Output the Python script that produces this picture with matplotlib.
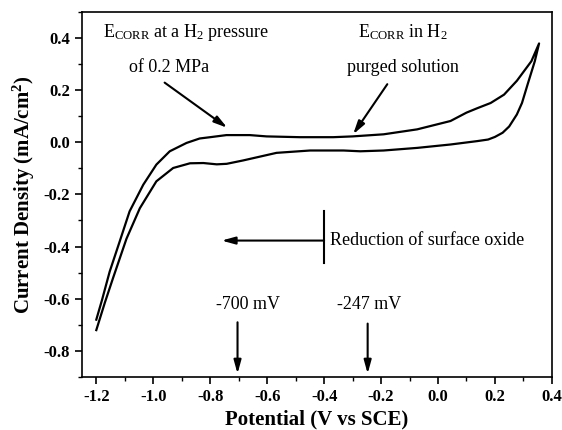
import matplotlib
matplotlib.use("Agg")
import matplotlib.pyplot as plt
from matplotlib.ticker import MultipleLocator, FormatStrFormatter

plt.rcParams['font.family'] = ['Liberation Serif', 'DejaVu Serif']
plt.rcParams['mathtext.fontset'] = 'custom'
plt.rcParams['mathtext.rm'] = 'Liberation Serif'
plt.rcParams['mathtext.it'] = 'Liberation Serif:italic'
plt.rcParams['mathtext.bf'] = 'Liberation Serif:bold'
plt.rcParams['axes.unicode_minus'] = False

# Forward (anodic) scan
fwd_v = [-1.2, -1.18, -1.153, -1.118, -1.083, -1.035, -0.989, -0.942, -0.883, -0.837,
         -0.80, -0.743, -0.661, -0.602, -0.485, -0.368, -0.30, -0.191, -0.073, 0.044,
         0.10, 0.138, 0.185, 0.232, 0.277, 0.328, 0.355]
fwd_i = [-0.68, -0.605, -0.496, -0.381, -0.265, -0.163, -0.086, -0.035, -0.003, 0.014,
         0.019, 0.027, 0.027, 0.022, 0.019, 0.019, 0.022, 0.030, 0.049, 0.081,
         0.113, 0.13, 0.15, 0.182, 0.235, 0.31, 0.378]
# Reverse (cathodic) scan
rev_v = [0.355, 0.34, 0.315, 0.295, 0.277, 0.25, 0.227, 0.20, 0.176, 0.138, 0.044,
         -0.073, -0.191, -0.273, -0.332, -0.449, -0.567, -0.684, -0.742, -0.777,
         -0.824, -0.871, -0.930, -0.989, -1.047, -1.094, -1.141, -1.17, -1.2]
rev_i = [0.378, 0.31, 0.222, 0.15, 0.106, 0.06, 0.036, 0.02, 0.01, 0.004, -0.009,
         -0.022, -0.032, -0.035, -0.032, -0.032, -0.041, -0.07, -0.083, -0.085,
         -0.08, -0.081, -0.099, -0.15, -0.253, -0.37, -0.52, -0.615, -0.72]

x_ticks = [-1.2, -1.0, -0.8, -0.6, -0.4, -0.2, 0.0, 0.2, 0.4]
y_ticks = [-0.8, -0.6, -0.4, -0.2, 0.0, 0.2, 0.4]

fig = plt.figure(figsize=(5.62, 4.30), dpi=100)
ax = fig.add_axes([0.146, 0.123, 0.836, 0.850])

ax.plot(fwd_v + rev_v[1:], fwd_i + rev_i[1:], color='black', lw=1.6,
        solid_joinstyle='round')

ax.set_xlim(-1.25, 0.4)
ax.set_ylim(-0.9, 0.5)
ax.set_xticks(x_ticks)
ax.set_yticks(y_ticks)
ax.xaxis.set_minor_locator(MultipleLocator(0.1))
ax.yaxis.set_minor_locator(MultipleLocator(0.1))
ax.xaxis.set_major_formatter(FormatStrFormatter('%.1f'))
ax.yaxis.set_major_formatter(FormatStrFormatter('%.1f'))
ax.tick_params(which='major', direction='out', length=5, width=1.2, labelsize=12)
ax.tick_params(which='minor', direction='out', length=3, width=1.0)
ax.tick_params(top=False, right=False)
for lab in ax.get_xticklabels() + ax.get_yticklabels():
    lab.set_fontweight('bold')
for s in ax.spines.values():
    s.set_linewidth(1.2)

ax.set_xlabel('Potential (V vs SCE)', fontsize=15, fontweight='bold', labelpad=3)
ax.set_ylabel(r'Current Density (mA/cm$^{\mathbf{2}}$)', fontsize=15, fontweight='bold', labelpad=5)

fs = 13
ap = dict(arrowstyle='-|>,head_length=0.8,head_width=0.22', color='black', lw=1.5,
          shrinkA=0, shrinkB=0)

ax.text(-0.883, 0.42, r'E$_{\rm CORR}$ at a H$_2$ pressure', fontsize=fs, ha='center', va='center')
ax.text(-0.943, 0.285, 'of 0.2 MPa', fontsize=fs, ha='center', va='center')
ax.annotate('', xy=(-0.74, 0.055), xytext=(-0.96, 0.228), arrowprops=ap)

ax.text(-0.122, 0.42, r'E$_{\rm CORR}$ in H$_2$', fontsize=fs, ha='center', va='center')
ax.text(-0.122, 0.285, 'purged solution', fontsize=fs, ha='center', va='center')
ax.annotate('', xy=(-0.298, 0.03), xytext=(-0.178, 0.222), arrowprops=ap)

ax.plot([-0.4, -0.4], [-0.265, -0.464], color='black', lw=1.5)
ax.annotate('', xy=(-0.76, -0.377), xytext=(-0.4, -0.377), arrowprops=ap)
ax.text(-0.38, -0.377, 'Reduction of surface oxide', fontsize=fs, ha='left', va='center')

ax.text(-0.668, -0.623, '-700 mV', fontsize=fs, ha='center', va='center')
ax.annotate('', xy=(-0.704, -0.887), xytext=(-0.704, -0.69), arrowprops=ap)
ax.text(-0.241, -0.623, '-247 mV', fontsize=fs, ha='center', va='center')
ax.annotate('', xy=(-0.247, -0.887), xytext=(-0.247, -0.695), arrowprops=ap)

fig.savefig('out.png', dpi=100)
